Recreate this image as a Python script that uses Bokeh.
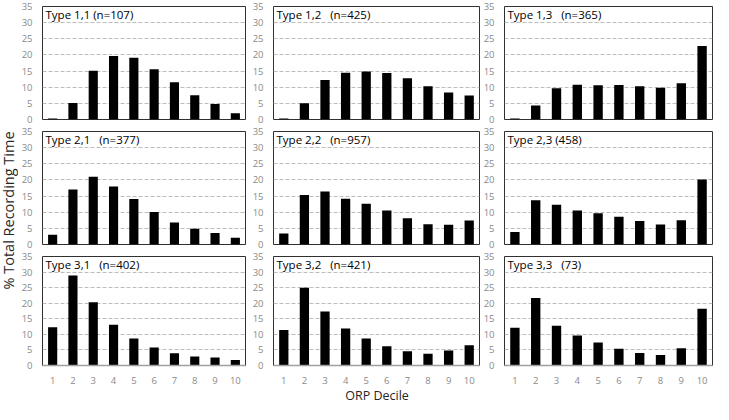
import math
from bokeh.plotting import figure
from bokeh.layouts import row, column
from bokeh.models import Range1d, FixedTicker, Label
from bokeh.embed import file_html
from bokeh.resources import INLINE

deciles = [1, 2, 3, 4, 5, 6, 7, 8, 9, 10]
decile_labels = ["1", "2", "3", "4", "5", "6", "7", "8", "9", "10"]
y_ticks = [0, 5, 10, 15, 20, 25, 30, 35]

NB = "\u00a0"
titles = [
    "Type 1,1 (n=107)",
    "Type 1,2" + NB * 3 + "(n=425)",
    "Type 1,3" + NB * 3 + "(n=365)",
    "Type 2,1" + NB * 3 + "(n=377)",
    "Type 2,2" + NB * 3 + "(n=957)",
    "Type 2,3 (458)",
    "Type 3,1" + NB * 3 + "(n=402)",
    "Type 3,2" + NB * 3 + "(n=421)",
    "Type 3,3" + NB * 3 + "(73)",
]

type_1_1 = [0.3, 5.1, 15.1, 19.7, 19.1, 15.6, 11.5, 7.5, 4.8, 1.9]
type_1_2 = [0.3, 5.0, 12.2, 14.5, 14.9, 14.4, 12.8, 10.3, 8.4, 7.4]
type_1_3 = [0.3, 4.3, 9.7, 10.8, 10.6, 10.7, 10.3, 9.8, 11.2, 22.8]
type_2_1 = [3.0, 17.0, 21.0, 18.0, 14.1, 10.1, 6.8, 4.9, 3.6, 2.1]
type_2_2 = [3.4, 15.3, 16.4, 14.2, 12.6, 10.5, 8.1, 6.3, 6.1, 7.4]
type_2_3 = [3.9, 13.7, 12.3, 10.5, 9.7, 8.6, 7.3, 6.2, 7.5, 20.1]
type_3_1 = [12.3, 28.9, 20.3, 13.1, 8.7, 5.8, 3.9, 2.9, 2.6, 1.8]
type_3_2 = [11.4, 25.0, 17.3, 11.9, 8.7, 6.2, 4.6, 3.8, 4.8, 6.5]
type_3_3 = [12.1, 21.7, 12.8, 9.6, 7.4, 5.4, 4.0, 3.4, 5.5, 18.2]

series = [type_1_1, type_1_2, type_1_3,
          type_2_1, type_2_2, type_2_3,
          type_3_1, type_3_2, type_3_3]

FONT = "Open Sans"
TICK_COLOR = "#8a8a8a"

col_w = [228, 234, 233]
col_bl = [16, 27, 24]
col_br = [1, 1, 1]
row_h = [125, 125, 136]
row_bt = [6, 6, 6]
row_bb = [6, 6, 17]
XLAB_H = 18


def make_panel(vals, title, ci, ri):
    p = figure(width=col_w[ci], height=row_h[ri],
               x_range=Range1d(0.5, 10.5), y_range=Range1d(0, 35),
               output_backend="svg", toolbar_location=None,
               min_border_left=col_bl[ci], min_border_right=col_br[ci],
               min_border_top=row_bt[ri], min_border_bottom=row_bb[ri])
    p.vbar(x=deciles, top=vals, width=0.45, fill_color="black", line_color=None)
    p.outline_line_color = "#303030"
    p.outline_line_width = 1
    p.background_fill_color = "white"
    p.border_fill_color = "white"
    p.xgrid.visible = False
    p.ygrid.ticker = FixedTicker(ticks=y_ticks)
    p.ygrid.grid_line_color = "#bdbdbd"
    p.ygrid.grid_line_dash = "4 2"
    p.ygrid.grid_line_width = 1
    ya = p.yaxis[0]
    ya.ticker = FixedTicker(ticks=y_ticks)
    ya.axis_line_color = None
    ya.major_tick_line_color = None
    ya.minor_tick_line_color = None
    ya.major_label_standoff = 4
    ya.major_label_text_font = FONT
    ya.major_label_text_font_size = "9.5px"
    ya.major_label_text_color = TICK_COLOR
    xa = p.xaxis[0]
    if ri < 2:
        xa.visible = False
    else:
        xa.ticker = FixedTicker(ticks=deciles)
        xa.major_label_overrides = {d: l for d, l in zip(deciles, decile_labels)}
        xa.axis_line_color = "#a0a0a0"
        xa.axis_line_width = 1.5
        xa.major_tick_line_color = None
        xa.minor_tick_line_color = None
        xa.major_label_standoff = 5
        xa.major_label_text_font = FONT
        xa.major_label_text_font_size = "9.5px"
        xa.major_label_text_color = TICK_COLOR
    p.add_layout(Label(x=0.5, y=34.8, x_offset=3, text=title,
                       text_baseline="top", text_align="left",
                       text_font=FONT, text_font_size="11.5px",
                       text_color="black"))
    return p


rows = []
for ri in range(3):
    figs = []
    for ci in range(3):
        k = ri * 3 + ci
        figs.append(make_panel(series[k], titles[k], ci, ri))
    rows.append(row(*figs, spacing=0))

total_w = sum(col_w)
xlab = figure(width=total_w, height=XLAB_H, x_range=Range1d(0, total_w),
              y_range=Range1d(0, XLAB_H), output_backend="svg",
              toolbar_location=None, min_border=0)
xlab.axis.visible = False
xlab.grid.visible = False
xlab.outline_line_color = None
xlab.add_layout(Label(x=col_w[0] + col_bl[1] + (col_w[1] - col_bl[1]) / 2,
                      y=9, text="ORP Decile", text_align="center",
                      text_baseline="middle", text_font=FONT,
                      text_font_size="12.5px", text_color="#262626"))

total_h = sum(row_h) + XLAB_H
ylab = figure(width=18, height=total_h, x_range=Range1d(0, 18),
              y_range=Range1d(0, total_h), output_backend="svg",
              toolbar_location=None, min_border=0)
ylab.axis.visible = False
ylab.grid.visible = False
ylab.outline_line_color = None
ylab.add_layout(Label(x=8, y=total_h - 210, text="% Total Recording Time",
                      angle=math.pi / 2, text_align="center",
                      text_baseline="middle", text_font=FONT,
                      text_font_size="14.5px", text_color="#262626"))

layout = row(ylab, column(*rows, xlab, spacing=0), spacing=0)

open("out.html", "w").write(file_html(layout, INLINE))
